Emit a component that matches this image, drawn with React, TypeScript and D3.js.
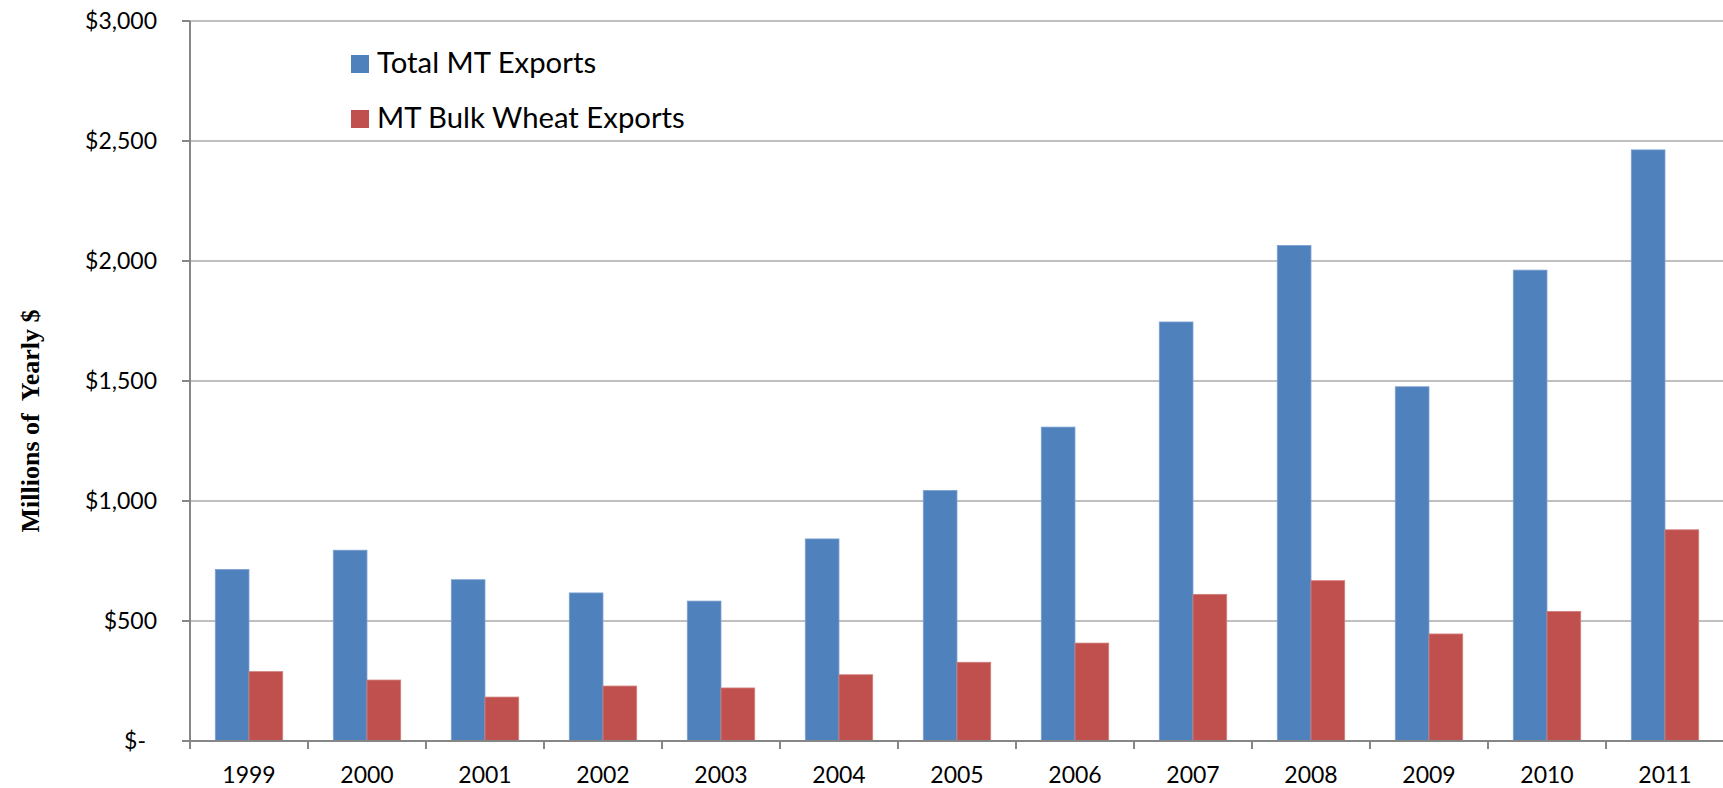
import React from "react";
import * as d3 from "d3";

const years = ["1999", "2000", "2001", "2002", "2003", "2004", "2005", "2006", "2007", "2008", "2009", "2010", "2011"];
const totalExports = [715, 795, 672, 617, 583, 842, 1044, 1308, 1746, 2065, 1476, 1962, 2463];
const wheatExports = [289, 254, 183, 229, 221, 276, 328, 408, 611, 668, 446, 540, 880];
const seriesNames = ["Total MT Exports", "MT Bulk Wheat Exports"];
const seriesColors = ["#4F81BD", "#C0504D"];
const seriesStrokes = ["#7FA2D2", "#D27E7C"];
const yTicks = [0, 500, 1000, 1500, 2000, 2500, 3000];
const yTitle = "Millions of  Yearly $";

const W = 1723;
const H = 788;
const left = 190;
const top = 21;
const bottom = 741;
const font = "Lato, 'Open Sans', sans-serif";

export default function App() {
  const x = d3.scaleBand<string>().domain(years).range([left, left + 118 * years.length]).paddingInner(0).paddingOuter(0);
  const inner = d3.scaleBand<number>().domain([0, 1]).range([0, x.bandwidth()]).paddingInner(0).paddingOuter(0.75);
  const y = d3.scaleLinear().domain([0, 3000]).range([bottom, top]);
  const fmt = (v: number) => (v === 0 ? "$-" : "$" + d3.format(",")(v));
  const series = [totalExports, wheatExports];

  return (
    <div style={{ position: "fixed", left: 0, top: 0, width: W, height: H, background: "#fff" }}>
      <svg width={W} height={H} style={{ display: "block" }}>
        <rect x={0} y={0} width={W} height={H} fill="#fff" />
        {yTicks.filter((t) => t > 0).map((t) => (
          <line key={"g" + t} x1={left} x2={W} y1={y(t)} y2={y(t)} stroke="#BFBFBF" strokeWidth={2} />
        ))}
        {series.map((vals, si) =>
          vals.map((v, i) => (
            <rect
              key={si + "-" + i}
              x={(x(years[i]) as number) + (inner(si) as number)}
              y={y(v)}
              width={inner.bandwidth()}
              height={bottom - y(v)}
              fill={seriesColors[si]}
              stroke={seriesStrokes[si]}
              strokeWidth={0.8}
            />
          ))
        )}
        <line x1={left} x2={left} y1={top} y2={bottom + 8} stroke="#868686" strokeWidth={2} />
        {yTicks.map((t) => (
          <g key={"yt" + t}>
            <line x1={left - 8} x2={left} y1={y(t)} y2={y(t)} stroke="#868686" strokeWidth={2} />
            <text
              x={t === 0 ? 146 : 157}
              y={y(t)}
              dy="0.36em"
              textAnchor="end"
              fontFamily={font}
              fontSize={23}
              fill="#000"
            >
              {fmt(t)}
            </text>
          </g>
        ))}
        <line x1={left} x2={W} y1={bottom} y2={bottom} stroke="#868686" strokeWidth={2} />
        {years.map((yr) => (
          <g key={"xt" + yr}>
            <line x1={x(yr) as number} x2={x(yr) as number} y1={bottom} y2={bottom + 8} stroke="#868686" strokeWidth={2} />
            <text
              x={(x(yr) as number) + x.bandwidth() / 2}
              y={783}
              textAnchor="middle"
              fontFamily={font}
              fontSize={23}
              fill="#000"
            >
              {yr}
            </text>
          </g>
        ))}
        <line x1={left + 118 * years.length} x2={left + 118 * years.length} y1={bottom} y2={bottom + 8} stroke="#868686" strokeWidth={2} />
        <text
          transform={`translate(39, 421) rotate(-90)`}
          textAnchor="middle"
          fontFamily="'Liberation Serif', 'Times New Roman', serif"
          fontWeight="bold"
          fontSize={26}
          fill="#000"
          style={{ whiteSpace: "pre" }}
        >
          {yTitle}
        </text>
        {seriesNames.map((name, i) => (
          <g key={"lg" + i}>
            <rect x={351} y={55 + i * 55} width={18} height={18} fill={seriesColors[i]} />
            <text x={377} y={73 + i * 55} fontFamily={font} fontSize={29.3} fill="#000">
              {name}
            </text>
          </g>
        ))}
      </svg>
    </div>
  );
}
